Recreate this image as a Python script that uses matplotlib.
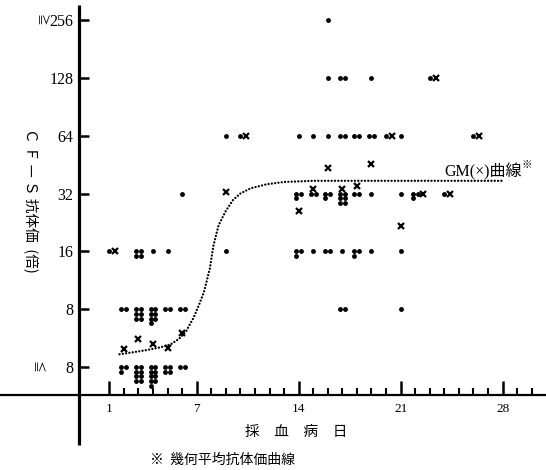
import matplotlib
matplotlib.use("Agg")
import matplotlib.pyplot as plt
from matplotlib.lines import Line2D

SERIF = ["Liberation Serif", "Noto Sans CJK JP", "DejaVu Sans"]
CJK = ["Noto Sans CJK JP", "DejaVu Sans"]

# titre levels: 0 = "≦8", 1 = 8, 2 = 16, 3 = 32, 4 = 64, 5 = 128, 6 = "≧256"
level_ticks = [0, 1, 2, 3, 4, 5, 6]
level_labels = ["8", "8", "16", "32", "64", "128", "256"]
day_major = [1, 7, 14, 21, 28]
day_minor = list(range(2, 31))

# individual sera: sampling day, titre level, number of sera
sera_day = [2, 3, 4, 5, 6,
            2, 3, 4, 5, 6, 17, 21,
            1, 3, 4, 5, 9, 14, 15, 16, 17, 18, 19, 21,
            6, 14, 15, 16, 17, 18, 19, 21, 22, 24,
            9, 10, 14, 15, 16, 17, 18, 19, 20, 21, 26,
            16, 17, 19, 23,
            16]
sera_level = [0, 0, 0, 0, 0,
              1, 1, 1, 1, 1, 1, 1,
              2, 2, 2, 2, 2, 2, 2, 2, 2, 2, 2, 2,
              3, 3, 3, 3, 3, 3, 3, 3, 3, 3,
              4, 4, 4, 4, 4, 4, 4, 4, 4, 4, 4,
              5, 5, 5, 5,
              6]
sera_count = [3, 8, 9, 4, 2,
              2, 6, 7, 2, 2, 2, 1,
              1, 4, 1, 1, 1, 3, 1, 2, 1, 3, 1, 1,
              1, 3, 2, 3, 6, 2, 1, 1, 3, 1,
              1, 1, 1, 1, 1, 2, 2, 2, 1, 1, 1,
              1, 2, 1, 1,
              1]

# geometric mean titre of each sampling day (×)
gm_day = [1, 2, 3, 4, 5, 6, 9, 10, 14, 15, 16, 17, 18, 19, 20, 21, 22, 23, 24, 26]
gm_level = [2.0, 0.31, 0.48, 0.40, 0.33, 0.58, 3.02, 4.0, 2.69, 3.07,
            3.45, 3.08, 3.13, 3.51, 4.0, 2.43, 3.0, 5.0, 3.0, 4.0]

# smoothed GM curve
curve_day = [1.7, 2.5, 3.5, 4.5, 5.2, 5.8, 6.3, 6.8, 7.2, 7.5, 7.9, 8.15,
             8.5, 9.0, 9.5, 10.0, 10.7, 11.8, 13.0, 15.0, 28.0]
curve_level = [0.22, 0.25, 0.29, 0.34, 0.39, 0.49, 0.63, 0.86, 1.1, 1.3, 1.7,
               2.1, 2.45, 2.7, 2.89, 3.0, 3.09, 3.16, 3.2, 3.22, 3.22]

fig = plt.figure(figsize=(5.46, 4.70), dpi=100)
ax = fig.add_axes([79 / 546, 75 / 470, 467 / 546, 390 / 470])
ax.set_xlim(-1.08, 30.98)
ax.set_ylim(-0.484, 6.26)
for s in ax.spines.values():
    s.set_visible(False)

# axis lines, both running past the origin
ax.add_line(Line2D([0, 0], [-0.128, 1.0], transform=ax.transAxes,
                   color="black", lw=2.3, clip_on=False, solid_capstyle="butt"))
ax.add_line(Line2D([-0.17, 1.0], [0, 0], transform=ax.transAxes,
                   color="black", lw=1.6, clip_on=False, solid_capstyle="butt"))

# sera dots, stacked two per row when several share a day and titre
col_step, row_step = 0.34, 0.081
xs, ys = [], []
for d, lv, n in zip(sera_day, sera_level, sera_count):
    for k in range(n):
        dx = 0.0 if n == 1 else (k % 2 - 0.5) * col_step
        xs.append(d + dx)
        ys.append(lv - (k // 2) * row_step)
ax.plot(xs, ys, "o", color="black", ms=3.5, mew=0)

# GM crosses, nudged right of a dot they would cover
gx = []
for d, lv in zip(gm_day, gm_level):
    shift = 0.0
    for sd, sl, n in zip(sera_day, sera_level, sera_count):
        if sd == d and abs(sl - lv) < 0.05:
            shift = 0.4 if n == 1 else 0.55
    gx.append(d + shift)
ax.plot(gx, gm_level, "x", color="black", ms=4.5, mew=1.6)

ax.plot(curve_day, curve_level, color="black", lw=1.7,
        linestyle=(0, (0.01, 1.4)), dash_capstyle="round")

ax.set_yticks(level_ticks)
ax.set_yticklabels(level_labels, fontfamily=SERIF)
ax.tick_params(axis="y", direction="in", length=7, width=1.8, pad=4,
               labelsize=11.5)
ax.set_xticks(day_major)
ax.set_xticklabels([str(d) for d in day_major], fontfamily=SERIF)
ax.set_xticks(day_minor, minor=True)
ax.tick_params(axis="x", which="major", direction="in", length=10, width=1.8,
               pad=6, labelsize=9.5)
ax.tick_params(axis="x", which="minor", direction="in", length=5, width=1.5)

lt = ax.get_yaxis_transform()
ax.text(-0.082, 6, "≧", transform=lt, rotation=-90, ha="center", va="center",
        fontsize=8.5, family=CJK)
ax.text(-0.09, 0, "≦", transform=lt, rotation=-90, ha="center", va="center",
        fontsize=8.5, family=CJK)

ax.text(24.0, 3.38, "GM(×)曲線", fontsize=11.5, family=SERIF, ha="left",
        va="center")
ax.text(29.3, 3.5, "※", fontsize=7.5, family=CJK, ha="left", va="center")

fig.text(30 / 546, 1 - 200 / 470, "Ｃ Ｆ — Ｓ 抗体価  (倍)", rotation=-90,
         ha="center", va="center", fontsize=10.5, family=CJK)
fig.text(296 / 546, 1 - 432 / 470, "採　血　病　日", ha="center", va="center",
         fontsize=10.5, family=CJK)
fig.text(150 / 546, 1 - 460 / 470, "※  幾何平均抗体価曲線", ha="left",
         va="center", fontsize=10, family=CJK)

fig.savefig("out.png", dpi=100)
